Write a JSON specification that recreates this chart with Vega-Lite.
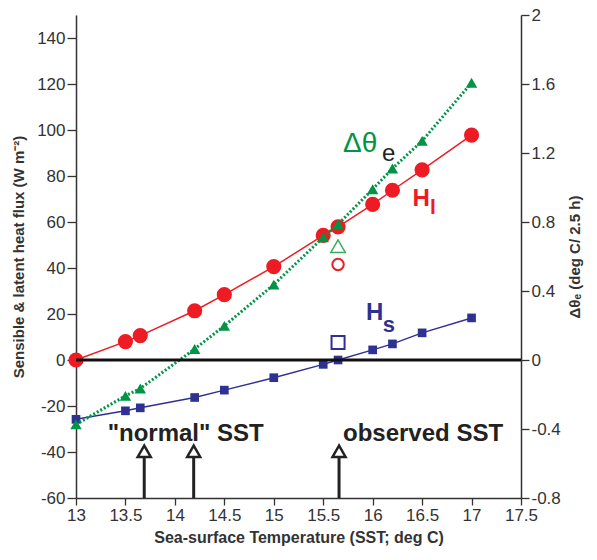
{
  "$schema": "https://vega.github.io/schema/vega-lite/v6.json",
  "width": 445,
  "height": 483,
  "autosize": {"type": "none"},
  "padding": {"left": 76, "top": 15, "right": 76, "bottom": 62},
  "background": "white",
  "config": {
    "view": {"stroke": null},
    "font": "Liberation Sans",
    "axis": {
      "grid": false,
      "domainColor": "#333333",
      "tickColor": "#333333",
      "labelColor": "#333333",
      "titleColor": "#333333",
      "labelFont": "Liberation Sans",
      "titleFont": "Liberation Sans",
      "labelFontSize": 17,
      "titleFontSize": 15,
      "titleFontWeight": "bold",
      "domainWidth": 1.5,
      "tickWidth": 1.3,
      "labelOverlap": false,
      "labelFlush": false
    }
  },
  "datasets": {
    "obs": [
      {"sst": 13.0, "Hl": 0.0, "Hs": -25.8, "dTheta": -0.373},
      {"sst": 13.5, "Hl": 8.0, "Hs": -22.1, "dTheta": -0.208},
      {"sst": 13.65, "Hl": 10.6, "Hs": -20.8, "dTheta": -0.165},
      {"sst": 14.2, "Hl": 21.4, "Hs": -16.3, "dTheta": 0.064},
      {"sst": 14.5, "Hl": 28.4, "Hs": -13.1, "dTheta": 0.198},
      {"sst": 15.0, "Hl": 40.6, "Hs": -7.7, "dTheta": 0.437},
      {"sst": 15.5, "Hl": 54.2, "Hs": -1.9, "dTheta": 0.711},
      {"sst": 15.65, "Hl": 57.9, "Hs": 0.0, "dTheta": 0.787},
      {"sst": 16.0, "Hl": 67.7, "Hs": 4.4, "dTheta": 0.99},
      {"sst": 16.2, "Hl": 73.8, "Hs": 7.0, "dTheta": 1.11},
      {"sst": 16.5, "Hl": 82.7, "Hs": 11.8, "dTheta": 1.27},
      {"sst": 17.0, "Hl": 97.8, "Hs": 18.3, "dTheta": 1.607}
    ],
    "model": [
      {"sst": 15.65, "Hl": 41.5, "Hs": 7.6, "dTheta": 0.66}
    ],
    "arrows": [
      {"sst": 13.69},
      {"sst": 14.19},
      {"sst": 15.66}
    ],
    "one": [{}]
  },
  "layer": [
    {
      "layer": [
        {
          "data": {"name": "obs"},
          "mark": {"type": "line", "color": "#ED1C24", "strokeWidth": 1.5},
          "encoding": {
            "x": {
              "field": "sst",
              "type": "quantitative",
              "scale": {"domain": [13, 17.5], "nice": false, "zero": false},
              "axis": {
                "title": "Sea-surface Temperature (SST; deg C)",
                "titleFontSize": 16,
                "titlePadding": 6,
                "values": [13.0, 13.5, 14.0, 14.5, 15.0, 15.5, 16.0, 16.5, 17.0, 17.5],
                "labelExpr": "'' + round(datum.value*10)/10",
                "tickSize": 7,
                "labelPadding": 2
              }
            },
            "y": {
              "field": "Hl",
              "type": "quantitative",
              "scale": {"domain": [-60, 150], "nice": false, "zero": false},
              "axis": {
                "orient": "left",
                "title": "Sensible & latent heat flux (W m⁻²)",
                "titlePadding": 10,
                "values": [-60, -40, -20, 0, 20, 40, 60, 80, 100, 120, 140],
                "labelExpr": "'' + datum.value",
                "tickSize": 9,
                "labelPadding": 2
              }
            }
          }
        },
        {
          "data": {"name": "obs"},
          "mark": {"type": "circle", "color": "#ED1C24", "size": 230, "opacity": 1},
          "encoding": {
            "x": {"field": "sst", "type": "quantitative"},
            "y": {"field": "Hl", "type": "quantitative"}
          }
        },
        {
          "data": {"name": "obs"},
          "mark": {"type": "line", "color": "#2E3192", "strokeWidth": 1.5},
          "encoding": {
            "x": {"field": "sst", "type": "quantitative"},
            "y": {"field": "Hs", "type": "quantitative"}
          }
        },
        {
          "data": {"name": "obs"},
          "mark": {"type": "square", "color": "#2E3192", "size": 75, "opacity": 1},
          "encoding": {
            "x": {"field": "sst", "type": "quantitative"},
            "y": {"field": "Hs", "type": "quantitative"}
          }
        },
        {
          "data": {"name": "model"},
          "mark": {"type": "point", "shape": "circle", "filled": false, "stroke": "#ED1C24", "strokeWidth": 2, "size": 130, "opacity": 1},
          "encoding": {
            "x": {"field": "sst", "type": "quantitative"},
            "y": {"field": "Hl", "type": "quantitative"}
          }
        },
        {
          "data": {"name": "model"},
          "mark": {"type": "point", "shape": "square", "filled": false, "stroke": "#2E3192", "strokeWidth": 2, "size": 170, "opacity": 1},
          "encoding": {
            "x": {"field": "sst", "type": "quantitative"},
            "y": {"field": "Hs", "type": "quantitative"}
          }
        }
      ]
    },
    {
      "layer": [
        {
          "data": {"name": "obs"},
          "mark": {"type": "line", "color": "#009444", "strokeWidth": 3, "strokeDash": [2, 2]},
          "encoding": {
            "x": {"field": "sst", "type": "quantitative"},
            "y": {
              "field": "dTheta",
              "type": "quantitative",
              "scale": {"domain": [-0.8, 2], "nice": false, "zero": false},
              "axis": {
                "orient": "right",
                "title": "Δθₑ  (deg C/ 2.5 h)",
                "titleAngle": 270,
                "titlePadding": 22,
                "labelOverlap": false,
                "values": [-0.8,-0.7,-0.6,-0.5,-0.4,-0.3,-0.2,-0.1,0,0.1,0.2,0.3,0.4,0.5,0.6,0.7,0.8,0.9,1.0,1.1,1.2,1.3,1.4,1.5,1.6,1.7,1.8,1.9,2.0],
                "labelExpr": "round(datum.value*10) % 4 === 0 ? '' + round(datum.value*10)/10 : ''",
                "tickSize": {"condition": {"test": "round(datum.value*10) % 4 === 0", "value": 8}, "value": 4},
                "labelPadding": 2
              }
            }
          }
        },
        {
          "data": {"name": "one"},
          "mark": {"type": "rule", "color": "#111111", "strokeWidth": 3},
          "encoding": {
            "y": {"datum": 0, "type": "quantitative"}
          }
        },
        {
          "data": {"name": "obs"},
          "mark": {"type": "point", "shape": "triangle-up", "filled": true, "color": "#009444", "size": 130, "opacity": 1},
          "encoding": {
            "x": {"field": "sst", "type": "quantitative"},
            "y": {"field": "dTheta", "type": "quantitative"}
          }
        },
        {
          "data": {"name": "model"},
          "mark": {"type": "point", "shape": "triangle-up", "filled": false, "stroke": "#3AAA5C", "strokeWidth": 1.5, "size": 210, "opacity": 1},
          "encoding": {
            "x": {"field": "sst", "type": "quantitative"},
            "y": {"field": "dTheta", "type": "quantitative"}
          }
        },
        {
          "data": {"name": "arrows"},
          "mark": {"type": "rule", "color": "#222222", "strokeWidth": 3},
          "encoding": {
            "x": {"field": "sst", "type": "quantitative"},
            "y": {"datum": -0.8, "type": "quantitative"},
            "y2": {"datum": -0.567}
          }
        },
        {
          "data": {"name": "arrows"},
          "mark": {"type": "point", "shape": "triangle-up", "filled": false, "stroke": "#222222", "strokeWidth": 2.5, "size": 170, "opacity": 1},
          "encoding": {
            "x": {"field": "sst", "type": "quantitative"},
            "y": {"datum": -0.529, "type": "quantitative"}
          }
        },
        {
          "data": {"name": "one"},
          "mark": {"type": "text", "text": "Δθ", "align": "left", "baseline": "alphabetic", "fontSize": 28, "color": "#009444"},
          "encoding": {"x": {"datum": 15.70, "type": "quantitative"}, "y": {"datum": 1.205, "type": "quantitative"}}
        },
        {
          "data": {"name": "one"},
          "mark": {"type": "text", "text": "e", "align": "left", "baseline": "alphabetic", "fontSize": 24, "color": "#222222"},
          "encoding": {"x": {"datum": 16.094, "type": "quantitative"}, "y": {"datum": 1.153, "type": "quantitative"}}
        },
        {
          "data": {"name": "one"},
          "mark": {"type": "text", "text": "H", "align": "left", "baseline": "alphabetic", "fontSize": 24, "fontWeight": "bold", "color": "#ED1C24"},
          "encoding": {"x": {"datum": 16.404, "type": "quantitative"}, "y": {"datum": 0.892, "type": "quantitative"}}
        },
        {
          "data": {"name": "one"},
          "mark": {"type": "text", "text": "l", "align": "left", "baseline": "alphabetic", "fontSize": 21, "fontWeight": "bold", "color": "#ED1C24"},
          "encoding": {"x": {"datum": 16.58, "type": "quantitative"}, "y": {"datum": 0.844, "type": "quantitative"}}
        },
        {
          "data": {"name": "one"},
          "mark": {"type": "text", "text": "H", "align": "left", "baseline": "alphabetic", "fontSize": 24, "fontWeight": "bold", "color": "#2E3192"},
          "encoding": {"x": {"datum": 15.932, "type": "quantitative"}, "y": {"datum": 0.233, "type": "quantitative"}}
        },
        {
          "data": {"name": "one"},
          "mark": {"type": "text", "text": "s", "align": "left", "baseline": "alphabetic", "fontSize": 22, "fontWeight": "bold", "color": "#2E3192"},
          "encoding": {"x": {"datum": 16.101, "type": "quantitative"}, "y": {"datum": 0.165, "type": "quantitative"}}
        },
        {
          "data": {"name": "one"},
          "mark": {"type": "text", "text": "\"normal\" SST", "align": "left", "baseline": "alphabetic", "fontSize": 24, "fontWeight": "bold", "color": "#222222"},
          "encoding": {"x": {"datum": 13.32, "type": "quantitative"}, "y": {"datum": -0.469, "type": "quantitative"}}
        },
        {
          "data": {"name": "one"},
          "mark": {"type": "text", "text": "observed SST", "align": "left", "baseline": "alphabetic", "fontSize": 24, "fontWeight": "bold", "color": "#222222"},
          "encoding": {"x": {"datum": 15.70, "type": "quantitative"}, "y": {"datum": -0.469, "type": "quantitative"}}
        }
      ]
    }
  ],
  "resolve": {"scale": {"y": "independent"}, "axis": {"y": "independent"}}
}
